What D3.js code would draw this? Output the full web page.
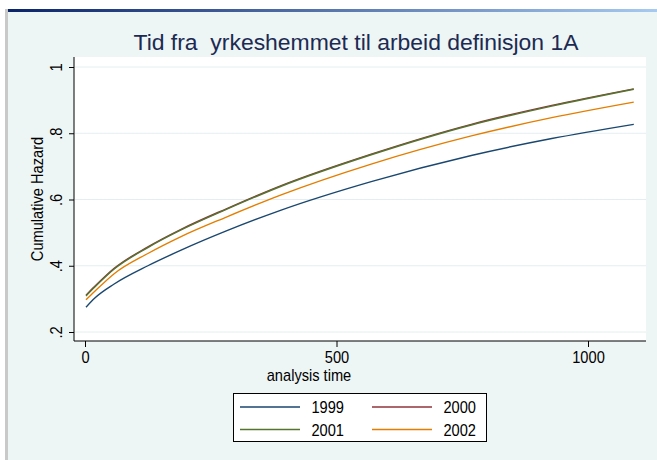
<html>
<head>
  <script src="https://d3js.org/d3.v7.min.js"></script>
  <style>
    body { margin: 0; background: #fff; }
    text { font-family: 'Liberation Sans', Arial, Helvetica, sans-serif; }
  </style>
</head>
<body>
<svg id="chart" width="657" height="460"></svg>
<script>
var times = [2, 19, 58, 125, 191, 281, 390, 569, 768, 928, 1091]
var h1999 = [0.275, 0.302, 0.345, 0.400, 0.447, 0.505, 0.568, 0.654, 0.733, 0.784, 0.827]
var h2000 = [0.311, 0.337, 0.392, 0.457, 0.510, 0.572, 0.642, 0.737, 0.827, 0.884, 0.934]
var h2001 = [0.309, 0.335, 0.390, 0.455, 0.508, 0.570, 0.640, 0.735, 0.825, 0.882, 0.933]
var h2002 = [0.297, 0.322, 0.376, 0.437, 0.488, 0.547, 0.614, 0.707, 0.792, 0.847, 0.894]
var seriesNames = ['1999', '2000', '2001', '2002']
var yTicks = [0.2, 0.4, 0.6, 0.8, 1]
var xTicks = [0, 500, 1000]

var colors = { '1999': '#1A476F', '2000': '#90353B', '2001': '#55752F', '2002': '#E37E00' }
var series = [h1999, h2000, h2001, h2002].map(function (vals, i) {
  return { name: seriesNames[i], values: vals.map(function (v, j) { return { t: times[j], h: v } }) }
})

var svg = d3.select('#chart')
var narrow = 0.86

// squeeze text horizontally a bit, stata draws with a narrow face
function squeeze (sel) {
  sel.each(function () {
    var w = this.getComputedTextLength()
    d3.select(this).attr('textLength', w * narrow).attr('lengthAdjust', 'spacingAndGlyphs')
  })
}

// window frame + graph region
var defs = svg.append('defs')
var grad = defs.append('linearGradient').attr('id', 'bar')
grad.append('stop').attr('offset', '0%').attr('stop-color', '#0A246A')
grad.append('stop').attr('offset', '100%').attr('stop-color', '#A6CAF0')
svg.append('rect').attr('width', 657).attr('height', 460).attr('fill', '#fff')
svg.append('rect').attr('x', 8).attr('y', 12).attr('width', 649).attr('height', 448).attr('fill', '#EDF5F5')
svg.append('rect').attr('x', 5).attr('y', 9).attr('width', 3).attr('height', 451).attr('fill', '#C9C9C9')
svg.append('rect').attr('x', 8).attr('y', 9).attr('width', 649).attr('height', 3).attr('fill', 'url(#bar)')

var plot = { left: 74, right: 646, top: 57, bottom: 341 }
svg.append('rect')
  .attr('x', plot.left).attr('y', plot.top)
  .attr('width', plot.right - plot.left).attr('height', plot.bottom - plot.top)
  .attr('fill', '#fff')

var x = d3.scaleLinear().domain([0, 1000]).range([85, 588])
var y = d3.scaleLinear().domain([0.2, 1]).range([332, 67])

// gridlines
svg.append('g').selectAll('line')
  .data(yTicks)
  .enter().append('line')
  .attr('x1', plot.left + 1).attr('x2', plot.right)
  .attr('y1', function (d) { return y(d) }).attr('y2', function (d) { return y(d) })
  .attr('stroke', '#E4EEF0').attr('stroke-width', 1)

// curves
var line = d3.line()
  .x(function (d) { return x(d.t) })
  .y(function (d) { return y(d.h) })
  .curve(d3.curveMonotoneX)

svg.append('g').selectAll('path')
  .data(series)
  .enter().append('path')
  .attr('d', function (d) { return line(d.values) })
  .attr('fill', 'none')
  .attr('stroke', function (d) { return colors[d.name] })
  .attr('stroke-width', 1.4)

// y axis
var yAxis = svg.append('g').attr('transform', 'translate(' + plot.left + ',0)')
  .call(d3.axisLeft(y).tickValues(yTicks).tickSize(5).tickSizeOuter(0)
    .tickFormat(function (d) { return d === 1 ? '1' : d3.format('.1f')(d).replace(/^0/, '') }))
yAxis.select('.domain').attr('d', 'M0,' + plot.top + 'V' + plot.bottom).attr('stroke', '#000')
yAxis.selectAll('.tick line').attr('stroke', '#000')
yAxis.selectAll('.tick text')
  .attr('font-size', 17).attr('fill', '#000')
  .attr('x', null).attr('dy', null)
  .attr('text-anchor', 'middle')
  .attr('transform', 'translate(-12,0) rotate(-90)')
  .call(squeeze)

svg.append('text')
  .attr('transform', 'translate(43,199) rotate(-90)')
  .attr('text-anchor', 'middle')
  .attr('font-size', 17)
  .text('Cumulative Hazard')
  .call(squeeze)

// x axis
var xAxis = svg.append('g').attr('transform', 'translate(0,' + plot.bottom + ')')
  .call(d3.axisBottom(x).tickValues(xTicks).tickSize(6).tickSizeOuter(0).tickFormat(d3.format('d')))
xAxis.select('.domain').attr('d', 'M' + plot.left + ',0H' + plot.right).attr('stroke', '#000')
xAxis.selectAll('.tick line').attr('stroke', '#000')
xAxis.selectAll('.tick text')
  .attr('font-size', 17).attr('fill', '#000')
  .attr('y', 22).attr('dy', null)
  .call(squeeze)

svg.append('text')
  .attr('x', 309).attr('y', 381)
  .attr('text-anchor', 'middle')
  .attr('font-size', 17)
  .text('analysis time')
  .call(squeeze)

// title
svg.append('text')
  .attr('x', 356).attr('y', 50)
  .attr('text-anchor', 'middle')
  .attr('font-size', 21.5)
  .attr('fill', '#1C2A52')
  .attr('textLength', 445).attr('lengthAdjust', 'spacingAndGlyphs')
  .style('white-space', 'pre')
  .text('Tid fra  yrkeshemmet til arbeid definisjon 1A')

// legend
var legend = svg.append('g')
legend.append('rect')
  .attr('x', 233.5).attr('y', 393.5).attr('width', 253).attr('height', 48)
  .attr('fill', '#fff').attr('stroke', '#000').attr('stroke-width', 1)

var item = legend.selectAll('g.item')
  .data(seriesNames)
  .enter().append('g')
  .attr('class', 'item')
  .attr('transform', function (d, i) {
    return 'translate(' + (i % 2 === 0 ? 240 : 372) + ',' + (i < 2 ? 407 : 429.5) + ')'
  })
item.append('line')
  .attr('x1', 0).attr('x2', 60)
  .attr('stroke', function (d) { return colors[d] })
  .attr('stroke-width', 1.5)
item.append('text')
  .attr('x', 104).attr('y', 6)
  .attr('text-anchor', 'end')
  .attr('font-size', 17)
  .text(function (d) { return d })
  .call(squeeze)
</script>
</body>
</html>
